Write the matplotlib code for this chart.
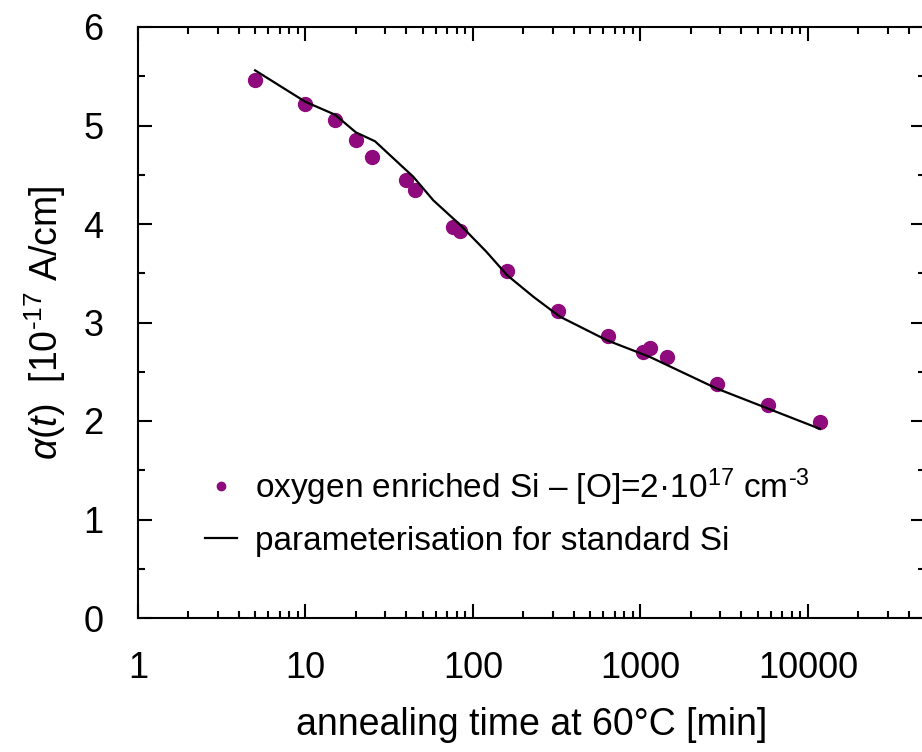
import matplotlib
matplotlib.use("Agg")
import matplotlib.pyplot as plt
from matplotlib.ticker import MultipleLocator, LogLocator, NullFormatter, FixedLocator, FixedFormatter

plt.rcParams['font.family'] = ['Liberation Sans', 'DejaVu Sans']
plt.rcParams['mathtext.fontset'] = 'custom'
plt.rcParams['mathtext.rm'] = 'Liberation Sans'
plt.rcParams['mathtext.it'] = 'Liberation Sans:italic'
plt.rcParams['mathtext.sf'] = 'Liberation Sans'

# measured data (oxygen enriched Si)
t_data = [5, 10, 15, 20, 25, 40, 45, 76, 84, 160, 320, 640, 1030, 1140, 1440, 2880, 5760, 11800]
a_data = [5.46, 5.22, 5.06, 4.85, 4.68, 4.45, 4.35, 3.97, 3.93, 3.52, 3.12, 2.86, 2.70, 2.74, 2.65, 2.38, 2.16, 1.99]

# parameterisation for standard Si
t_fit = [5, 10, 15, 20, 26, 44, 58, 84, 120, 160, 230, 330, 630, 1140, 2850, 5700, 11800]
a_fit = [5.56, 5.24, 5.11, 4.93, 4.84, 4.48, 4.24, 3.99, 3.72, 3.48, 3.26, 3.06, 2.82, 2.65, 2.33, 2.13, 1.92]

x_ticks = [1, 10, 100, 1000, 10000]
x_ticklabels = ['1', '10', '100', '1000', '10000']
y_ticks = [0, 1, 2, 3, 4, 5, 6]

W, H = 922, 752
fig = plt.figure(figsize=(W / 100, H / 100), dpi=100)
left, right, top, bottom = 138, 925, 27, 618
ax = fig.add_axes([left / W, (H - bottom) / H, (right - left) / W, (bottom - top) / H])

purple = '#8f0a7c'
ax.plot(t_data, a_data, 'o', color=purple, ms=10, mec=purple, lw=0,
        label=r'oxygen enriched Si – [O]=2·10$^{17}$ cm$^{\text{-}3}$')
ax.plot(t_fit, a_fit, '-', color='black', lw=1.6,
        label='parameterisation for standard Si')

ax.set_xscale('log')
ax.set_xlim(1, 50000)
ax.set_ylim(0, 6)
ax.xaxis.set_major_locator(FixedLocator(x_ticks))
ax.xaxis.set_major_formatter(FixedFormatter(x_ticklabels))
ax.xaxis.set_minor_locator(LogLocator(base=10, subs=range(2, 10)))
ax.xaxis.set_minor_formatter(NullFormatter())
ax.yaxis.set_major_locator(FixedLocator(y_ticks))
ax.yaxis.set_minor_locator(MultipleLocator(0.5))

ax.tick_params(which='both', direction='in', top=True, right=True, width=1.5, labelsize=26)
ax.tick_params(which='major', length=10)
ax.tick_params(which='minor', length=5)
ax.tick_params(axis='x', which='major', pad=24)
ax.tick_params(axis='y', which='major', pad=25)
for s in ax.spines.values():
    s.set_linewidth(1.5)

ax.set_xlabel('annealing time at 60°C [min]', fontsize=27)
ax.xaxis.set_label_coords(0.5, (bottom - 707) / (bottom - top))
ax.set_ylabel(r'$\alpha(t)$  [10$^{\text{-}17}$ A/cm]', fontsize=27)
ax.yaxis.set_label_coords((68 - left) / (right - left), 0.5)

leg = ax.legend(loc='upper left', bbox_to_anchor=((205 - left) / (right - left), (bottom - 466) / (bottom - top)),
                frameon=False, fontsize=24, borderpad=0, borderaxespad=0,
                handlelength=0.96, handletextpad=0.55, labelspacing=0.55, markerscale=0.6)

fig.savefig('out.png', dpi=100)
